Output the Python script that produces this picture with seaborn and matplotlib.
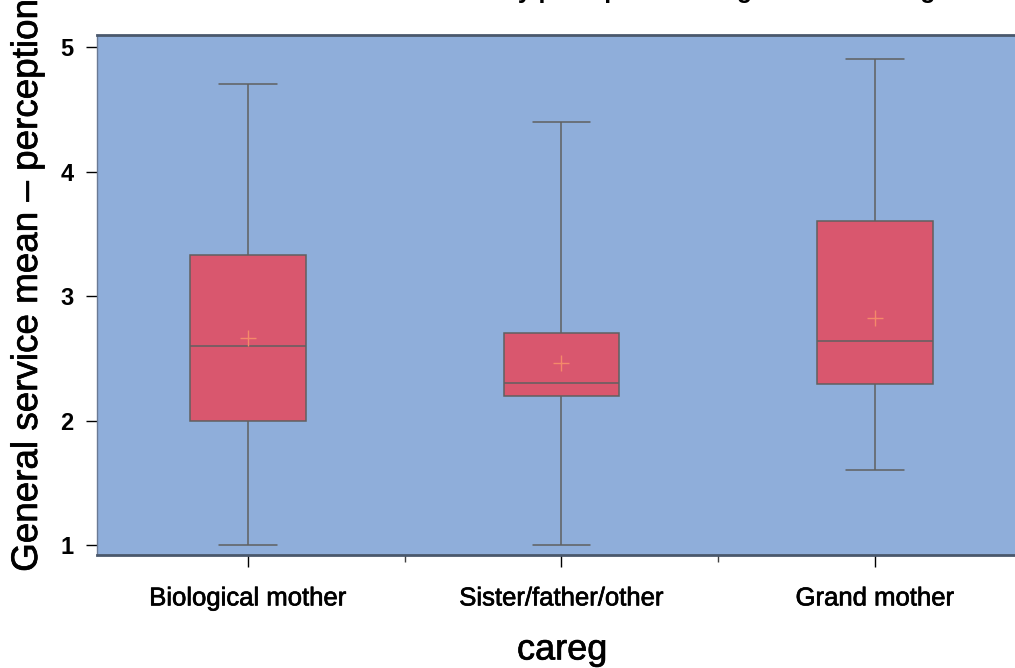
import matplotlib
matplotlib.use("Agg")
import matplotlib.pyplot as plt
import matplotlib.patheffects as pe
import seaborn as sns
import pandas as pd

# Caregiver groups and their five-number summaries (whisker ends, quartiles, median)
categories = ["Biological mother", "Sister/father/other", "Grand mother"]
whisker_low = [1.0, 1.0, 1.6]
q1 = [2.0, 2.2, 2.29]
median = [2.6, 2.3, 2.64]
q3 = [3.33, 2.7, 3.6]
whisker_high = [4.7, 4.4, 4.9]
means = [2.66, 2.46, 2.82]
yticks = [1, 2, 3, 4, 5]

rows = []
for i, cat in enumerate(categories):
    for v in (whisker_low[i], q1[i], median[i], q3[i], whisker_high[i]):
        rows.append({"careg": cat, "value": v})
summary = pd.DataFrame(rows)
mean_df = pd.DataFrame({"careg": categories, "mean": means})

sns.set_theme(style="ticks")
plt.rcParams["font.family"] = ["Liberation Sans", "DejaVu Sans"]
plt.rcParams.update({"text.color": "black", "axes.labelcolor": "black",
                     "xtick.color": "black", "ytick.color": "black"})

BG = "#8FAEDA"
BOX = "#D9576E"
EDGE = "#606060"
MEAN = "#F4896A"
heavy = [pe.withStroke(linewidth=0.5, foreground="black")]

fig = plt.figure(figsize=(10.15, 6.68), dpi=100)
ax = fig.add_axes([97 / 1015, 1 - 555 / 668, 934 / 1015, 520 / 668])
ax.set_facecolor(BG)

sns.boxplot(data=summary, x="careg", y="value", order=categories,
            whis=(0, 100), width=0.37, color=BOX, linecolor=EDGE,
            linewidth=1.1, saturation=1, fliersize=0, ax=ax)
for patch in ax.patches:
    patch.set_facecolor(BOX)
sns.stripplot(data=mean_df, x="careg", y="mean", order=categories,
              jitter=False, marker="+", size=11, color=MEAN,
              linewidth=1.0, ax=ax, zorder=5)

ax.set_xlim(-0.482, 2.498)
ax.set_ylim(1 - 10 / 124.5, 5 + 12 / 124.5)
ax.set_yticks(yticks)
ax.set_yticklabels([str(t) for t in yticks], fontsize=17, fontweight="bold")
ax.set_xticks([0.5, 1.5], minor=True)
ax.tick_params(axis="x", which="major", length=8.6, width=1,
               pad=14, labelsize=18.5)
ax.tick_params(axis="x", which="minor", length=5, width=1, color="#404040")
ax.tick_params(axis="y", which="major", length=8, width=1, pad=9)
for lab in ax.get_xticklabels():
    lab.set_path_effects(heavy)

for side in ("top", "bottom"):
    ax.spines[side].set_color("#4A586C")
    ax.spines[side].set_linewidth(2)
ax.spines["left"].set_color("#6A7A94")
ax.spines["left"].set_linewidth(1)
ax.spines["right"].set_visible(False)

ax.set_xlabel("careg", fontsize=26, path_effects=heavy)
ax.xaxis.set_label_coords(0.498, -0.149)
ax.set_ylabel("General service mean \u2013 perception", fontsize=26.5,
              path_effects=heavy)
ax.yaxis.set_label_coords(-0.0557, 0.517)

fig.text(241 / 1015, 1.003,
         "General service mean by perception among the three caregivers",
         ha="left", va="baseline", fontsize=17.7, fontweight="bold")

fig.savefig("out.png", dpi=100, facecolor="white")
